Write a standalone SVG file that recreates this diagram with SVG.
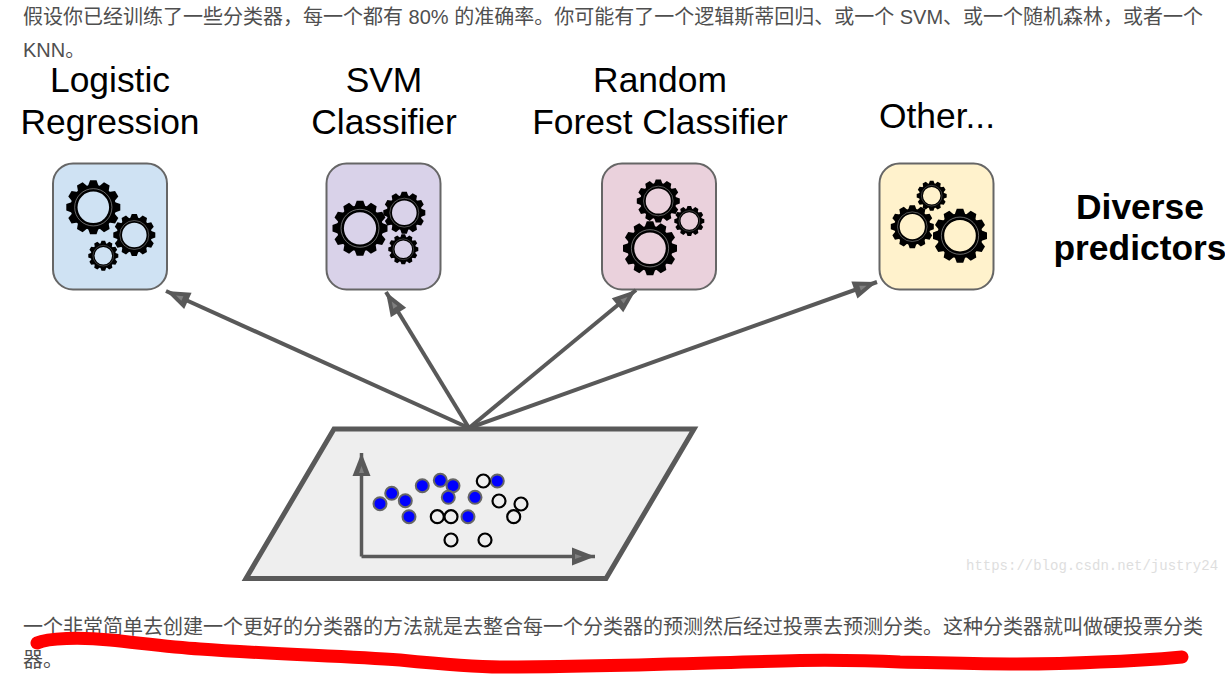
<svg xmlns="http://www.w3.org/2000/svg" width="1225" height="678" viewBox="0 0 1225 678">
<style>
.cn{font-family:"Liberation Sans","Noto Sans CJK SC",sans-serif;font-size:20px;fill:#4f4f4f}
.lb{font-family:"Liberation Sans",Arial,sans-serif;font-size:35.400px;fill:#000;text-anchor:middle}
.bd{font-weight:bold}
.box{stroke:#666;stroke-width:2}
.arrow{fill:none;stroke:#595959;stroke-width:4;marker-end:url(#head)}
.axis{fill:none;stroke:#595959;stroke-width:3.500;marker-end:url(#axhead)}
.b{fill:#0000ff;stroke:#666;stroke-width:2}
.w{fill:none;stroke:#000;stroke-width:2.200}
</style>
<defs>
<marker id="head" markerUnits="userSpaceOnUse" markerWidth="30" markerHeight="24" refX="26" refY="10" orient="auto" viewBox="0 0 30 20">
<path d="M2 1L26 10L2 19Z" fill="#595959"/><path d="M8 7.500L15 10L8 12.500Z" fill="#808080"/>
</marker>
<marker id="axhead" markerUnits="userSpaceOnUse" markerWidth="30" markerHeight="24" refX="24" refY="10" orient="auto" viewBox="0 0 30 20">
<path d="M1 1L24 10L1 19Z" fill="#595959"/><path d="M4 7.500L11 10L4 12.500Z" fill="#808080"/>
</marker>
<path id="tooth" d="M-20 -78L-12 -100H12L20 -78Z" fill="#000"/>
<g id="gear">
<use href="#tooth"/><use href="#tooth" transform="rotate(30)"/><use href="#tooth" transform="rotate(60)"/><use href="#tooth" transform="rotate(90)"/><use href="#tooth" transform="rotate(120)"/><use href="#tooth" transform="rotate(150)"/><use href="#tooth" transform="rotate(180)"/><use href="#tooth" transform="rotate(210)"/><use href="#tooth" transform="rotate(240)"/><use href="#tooth" transform="rotate(270)"/><use href="#tooth" transform="rotate(300)"/><use href="#tooth" transform="rotate(330)"/>
<circle r="71" fill="none" stroke="#000" stroke-width="25"/>
<circle r="69" fill="none" stroke="#999" stroke-width="2.500"/>
</g>
</defs>
<text class="cn" x="23" y="24">假设你已经训练了一些分类器，每一个都有 80% 的准确率。你可能有了一个逻辑斯蒂回归、或一个 SVM、或一个随机森林，或者一个</text>
<text class="cn" x="23" y="57">KNN。</text>
<g id="label-lr"><text class="lb" x="110" y="92">Logistic</text><text class="lb" x="110" y="134">Regression</text></g>
<g id="label-svm"><text class="lb" x="384" y="92">SVM</text><text class="lb" x="384" y="134">Classifier</text></g>
<g id="label-rf"><text class="lb" x="660" y="92">Random</text><text class="lb" x="660" y="134">Forest Classifier</text></g>
<g id="label-other"><text class="lb" x="937" y="128">Other...</text></g>
<g id="label-diverse"><text class="lb bd" x="1140" y="219">Diverse</text><text class="lb bd" x="1140" y="260">predictors</text></g>
<g id="node-lr"><rect class="box" x="53" y="163.500" width="114" height="126" rx="20" fill="#cfe2f3"/>
<use href="#gear" transform="translate(93.300 207.300) scale(.27)"/><use href="#gear" transform="translate(134.300 235) scale(.21)"/><use href="#gear" transform="translate(103.300 255.700) scale(.15)"/></g>
<g id="node-svm"><rect class="box" x="326.500" y="163.500" width="114" height="126" rx="20" fill="#d9d2e9"/>
<use href="#gear" transform="translate(360 228.300) scale(.275)"/><use href="#gear" transform="translate(404.300 212.700) scale(.21)"/><use href="#gear" transform="translate(403.300 249.300) scale(.15)"/></g>
<g id="node-rf"><rect class="box" x="602" y="163.500" width="114" height="126" rx="20" fill="#ead1dc"/>
<use href="#gear" transform="translate(658.300 201) scale(.215)"/><use href="#gear" transform="translate(689.300 221) scale(.15)"/><use href="#gear" transform="translate(650 248.300) scale(.27)"/></g>
<g id="node-other"><rect class="box" x="879.500" y="163.500" width="114" height="126" rx="20" fill="#fff2cc"/>
<use href="#gear" transform="translate(931.700 195.700) scale(.15)"/><use href="#gear" transform="translate(912.300 226.700) scale(.215)"/><use href="#gear" transform="translate(960 235.700) scale(.27)"/></g>
<g id="connectors">
<path class="arrow" d="M469 428L166 291"/>
<path class="arrow" d="M469 428L386 292"/>
<path class="arrow" d="M469 428L636 290"/>
<path class="arrow" d="M469 428L877 282"/>
</g>
<g id="node-data">
<path d="M334 429H694L606 578.500H246Z" fill="#eee" stroke="#595959" stroke-width="5"/>
<path class="axis" d="M361.500 556.500V453"/>
<path class="axis" d="M361.500 556.500H595"/>
<circle class="b" cx="380" cy="503.700" r="6.500"/><circle class="b" cx="391.700" cy="493.300" r="6.500"/><circle class="b" cx="405.300" cy="500.700" r="6.500"/><circle class="b" cx="409" cy="516.700" r="6.500"/><circle class="b" cx="422.300" cy="485.700" r="6.500"/><circle class="b" cx="440.300" cy="480.300" r="6.500"/><circle class="b" cx="453" cy="485.700" r="6.500"/><circle class="b" cx="448.300" cy="497.300" r="6.500"/><circle class="b" cx="475" cy="497.300" r="6.500"/><circle class="b" cx="468" cy="516.700" r="6.500"/><circle class="b" cx="497.300" cy="481" r="6.500"/>
<circle class="w" cx="483.300" cy="481" r="6.500"/><circle class="w" cx="499" cy="501" r="6.500"/><circle class="w" cx="521" cy="504" r="6.500"/><circle class="w" cx="513.700" cy="516.700" r="6.500"/><circle class="w" cx="437.300" cy="516.700" r="6.500"/><circle class="w" cx="451" cy="516.700" r="6.500"/><circle class="w" cx="451" cy="540" r="6.500"/><circle class="w" cx="485" cy="540" r="6.500"/>
</g>
<text x="966" y="570" font-family="'Liberation Mono',monospace" font-size="14" fill="#dedede">https://blog.csdn.net/justry24</text>
<text class="cn" x="23" y="634">一个非常简单去创建一个更好的分类器的方法就是去整合每一个分类器的预测然后经过投票去预测分类。这种分类器就叫做硬投票分类</text>
<text class="cn" x="23" y="667">器。</text>
<path d="M37 643C48 638 80 637 110 640C140 643 170 647 200 649C270 654 340 656 400 660C430 663 470 667 500 667C600 667 700 663 800 660.500C850 660 880 661 900 662C950 663 980 664 1017 664C1060 664 1080 663 1100 662C1130 661 1160 659 1182 657" fill="none" stroke="#f00" stroke-width="13" stroke-linecap="round"/>
</svg>
